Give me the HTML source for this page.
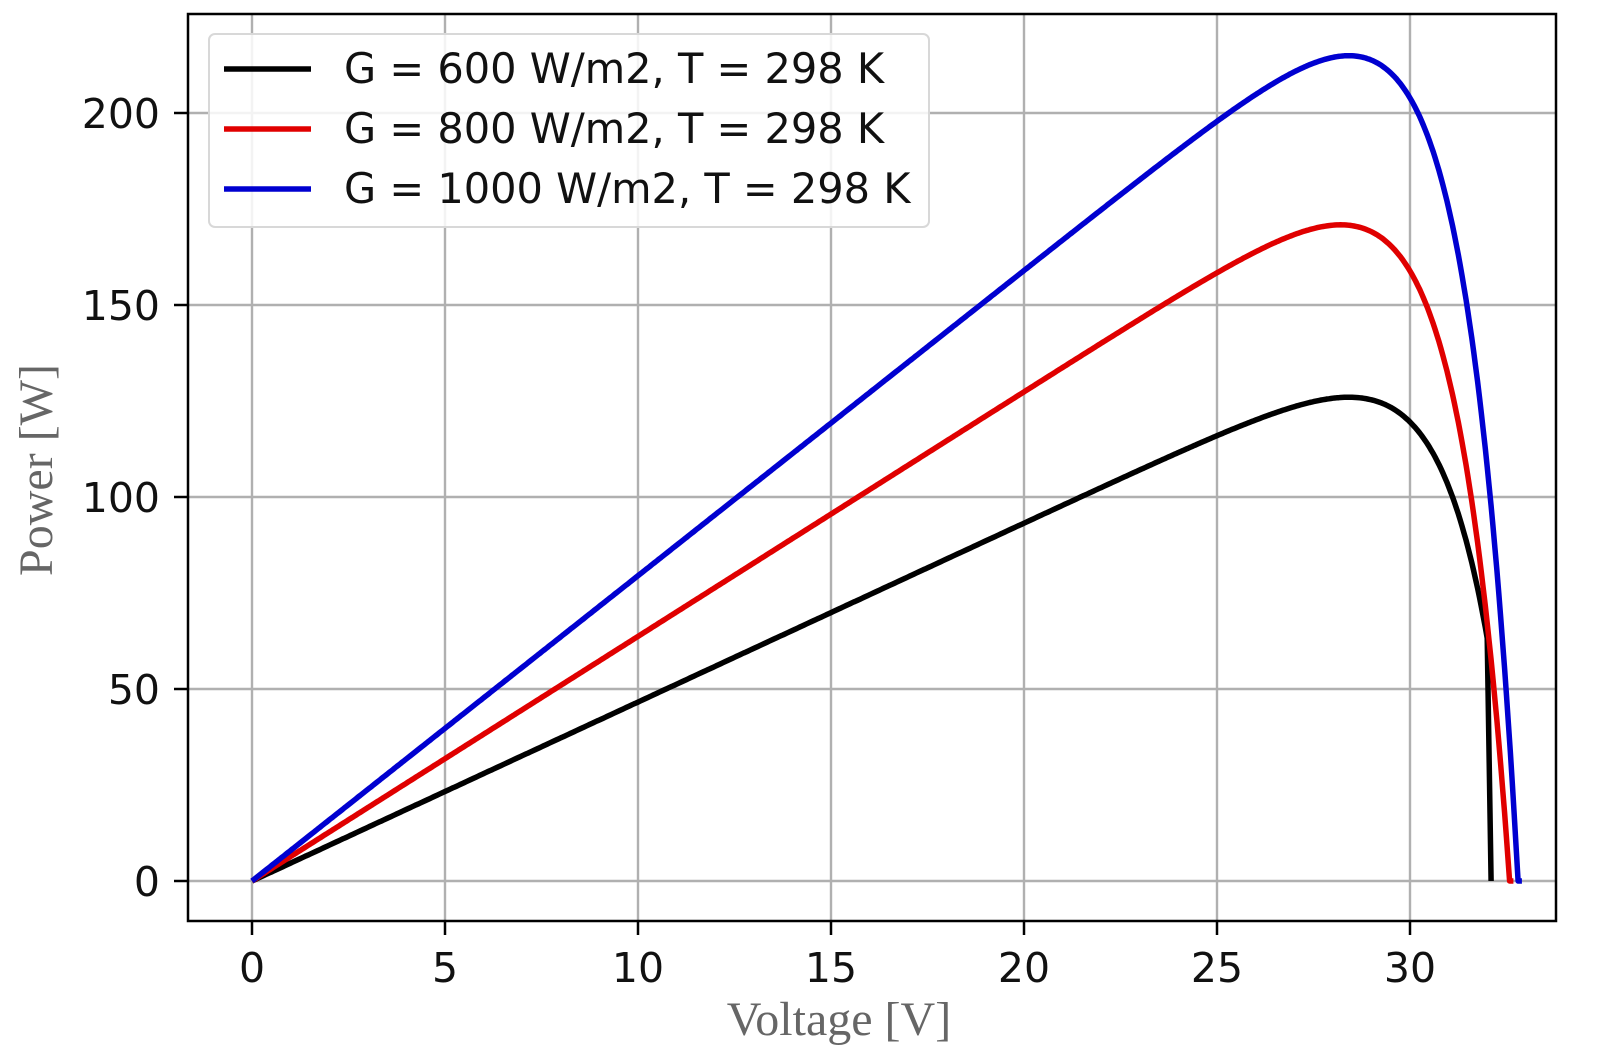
<!DOCTYPE html>
<html><head><meta charset="utf-8"><style>
html,body{margin:0;padding:0;background:#fff;}
svg{display:block;}
</style></head><body>
<svg id="s" width="1597" height="1060" viewBox="0 0 1597 1060" xmlns="http://www.w3.org/2000/svg">
<rect width="1597" height="1060" fill="#fff"/>
<g id="grid" stroke="#b0b0b0" stroke-width="2.4"></g>
<g id="curves" fill="none" stroke-width="5.5" stroke-linejoin="round"></g>
<rect x="188" y="14" width="1368" height="907" fill="none" stroke="#000" stroke-width="2.5"/>
<g id="ticks" stroke="#000" stroke-width="2.5"></g>
<g id="labels" font-family="DejaVu Sans, Liberation Sans, sans-serif" font-size="41" fill="#111"></g>
<g>
<rect x="209" y="34" width="720" height="193" rx="6" fill="#fff" fill-opacity="0.85" stroke="#d8d8d8" stroke-width="2"/>
<line x1="224" y1="69" x2="311" y2="69" stroke="#000" stroke-width="5.5"/>
<line x1="224" y1="129" x2="311" y2="129" stroke="#e00000" stroke-width="5.5"/>
<line x1="224" y1="189" x2="311" y2="189" stroke="#0000d0" stroke-width="5.5"/>
<g font-family="DejaVu Sans, Liberation Sans, sans-serif" font-size="41.5" fill="#111">
<text x="344" y="83">G = 600 W/m2, T = 298 K</text>
<text x="344" y="143">G = 800 W/m2, T = 298 K</text>
<text x="344" y="203">G = 1000 W/m2, T = 298 K</text>
</g>
</g>
<text x="839" y="1035" text-anchor="middle" font-family="Liberation Serif, serif" font-size="48" fill="#666">Voltage [V]</text>
<text transform="translate(52,470) rotate(-90)" text-anchor="middle" font-family="Liberation Serif, serif" font-size="48" fill="#666">Power [W]</text>
</svg>
<script>
var NS="http://www.w3.org/2000/svg";
function X(v){return 252+v*38.6;}
function Y(p){return 881-p*3.84;}
function el(parent,tag,attrs){var e=document.createElementNS(NS,tag);for(var k in attrs)e.setAttribute(k,attrs[k]);document.getElementById(parent).appendChild(e);return e;}
for(var v=0;v<=30;v+=5){
 el("grid","line",{x1:X(v),y1:14,x2:X(v),y2:921});
 el("ticks","line",{x1:X(v),y1:921,x2:X(v),y2:935});
 var t=el("labels","text",{x:X(v),y:982,"text-anchor":"middle"});t.textContent=v;
}
for(var p=0;p<=200;p+=50){
 el("grid","line",{x1:188,y1:Y(p),x2:1556,y2:Y(p)});
 el("ticks","line",{x1:174,y1:Y(p),x2:188,y2:Y(p)});
 var t=el("labels","text",{x:160,y:Y(p)+15,"text-anchor":"end"});t.textContent=p;
}
var a=1.45;
function curve(isc,voc,vend,color,cut){
 var d="",v;
 for(v=0;v<=vend;v+=0.05){
  var P=v*isc*(1-Math.exp((v-voc)/a)); if(P<0)P=0;
  d+=(d?"L":"M")+X(v).toFixed(1)+" "+Y(P).toFixed(1);
 }
 if(cut){d+="L"+X(vend+0.05).toFixed(1)+" "+Y(0);}
 else{d+="L"+X(voc).toFixed(1)+" "+Y(0)+"L"+X(voc+0.1).toFixed(1)+" "+Y(0);}
 el("curves","path",{d:d,stroke:color});
}
curve(4.66,32.8,32.05,"#000",true);
curve(6.37,32.58,32.55,"#e00000",false);
curve(7.95,32.8,32.75,"#0000d0",false);
</script>
</body></html>
